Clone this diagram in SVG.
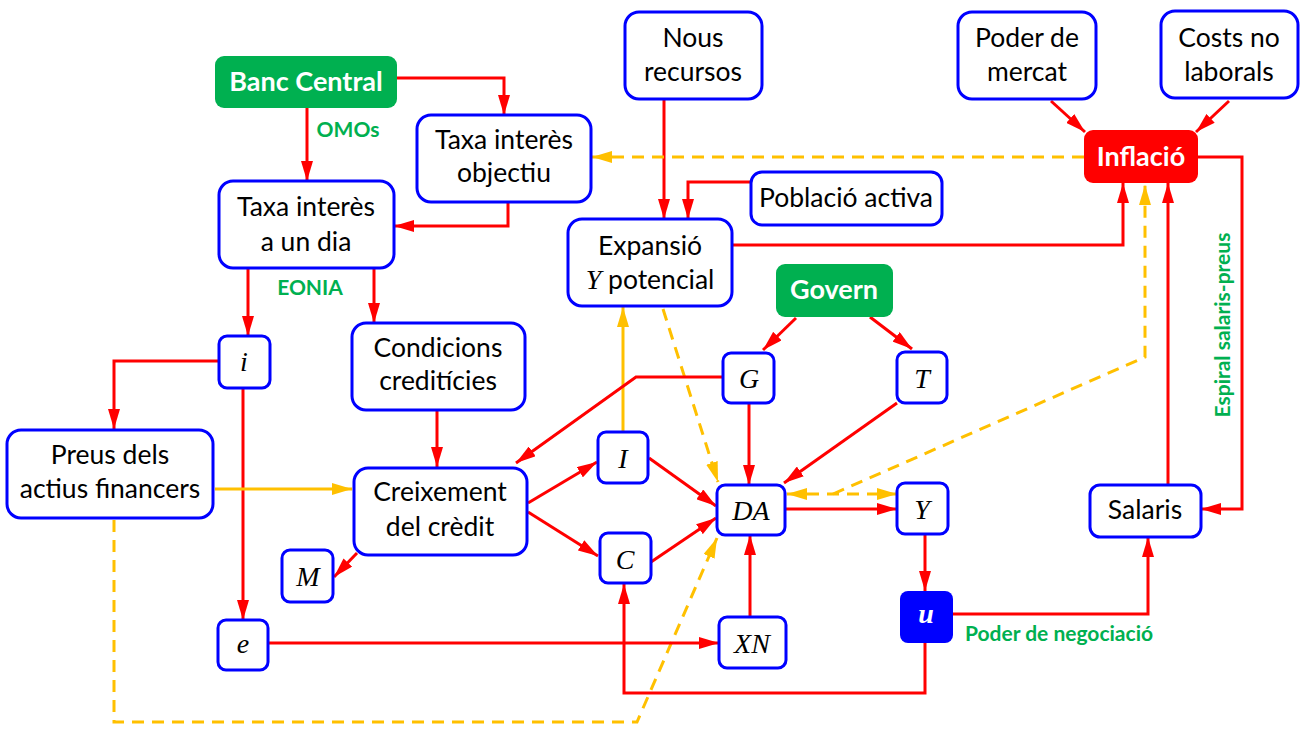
<svg xmlns="http://www.w3.org/2000/svg" width="1304" height="731" viewBox="0 0 1304 731">
<style>
.box{fill:#fff;stroke:#0000ff;stroke-width:3}
.t{font-family:Lato,"Liberation Sans",sans-serif;font-size:26.5px;fill:#000;text-anchor:middle}
.m{font-family:"Liberation Serif","DejaVu Serif",serif;font-style:italic;font-size:28px;fill:#000;text-anchor:middle}
.w{font-family:Lato,"Liberation Sans",sans-serif;font-weight:bold;font-size:27px;fill:#fff;text-anchor:middle}
.g{font-family:Lato,"Liberation Sans",sans-serif;font-weight:bold;font-size:21px;fill:#00b050;text-anchor:middle}
.r{fill:none;stroke:#ff0000;stroke-width:3;marker-end:url(#ar)}
.o{fill:none;stroke:#ffc000;stroke-width:3;marker-end:url(#ao)}
.od{fill:none;stroke:#ffc000;stroke-width:3;stroke-dasharray:12 8;marker-end:url(#ao)}
</style>
<defs>
<marker id="ar" viewBox="0 0 20 12" refX="20" refY="6" markerWidth="20" markerHeight="12" orient="auto-start-reverse" markerUnits="userSpaceOnUse"><path d="M0,0 L20,6 L0,12 z" fill="#ff0000"/></marker>
<marker id="ao" viewBox="0 0 20 12" refX="20" refY="6" markerWidth="20" markerHeight="12" orient="auto-start-reverse" markerUnits="userSpaceOnUse"><path d="M0,0 L20,6 L0,12 z" fill="#ffc000"/></marker>
</defs>
<rect width="1304" height="731" fill="#fff"/>
<g id="connectors">
<path class="r" d="M397,78 H504 V115"/>
<path class="r" d="M307,108 V181"/>
<path class="r" d="M508,202 V226 H394"/>
<path class="r" d="M248,268 V336"/>
<path class="r" d="M374,268 V323"/>
<path class="r" d="M219,361 H114 V429"/>
<path class="r" d="M243,388 V620"/>
<path class="r" d="M437,410 V467"/>
<path class="o" d="M215,489 H352"/>
<path class="od" d="M114,520 V722 H637 L717,538"/>
<path class="r" d="M357,553 L334,577"/>
<path class="r" d="M528,503 L597,462"/>
<path class="r" d="M528,512 L598,556"/>
<path class="o" d="M623,432 V307"/>
<path class="od" d="M663,309 L718,482"/>
<path class="r" d="M649,458 L716,506"/>
<path class="r" d="M651,562 L716,518"/>
<path class="r" d="M723,377 H636 L516,463"/>
<path class="r" d="M749,403 V485"/>
<path class="r" d="M897,403 L784,483"/>
<path class="r" d="M796,318 L763,350"/>
<path class="r" d="M870,317 L912,349"/>
<path class="r" d="M785,509 H897"/>
<path class="od" d="M787,494 H897" marker-start="url(#ao)"/>
<path class="od" d="M833,494 L1145,357 V185"/>
<path class="r" d="M925,534 V591"/>
<path class="r" d="M953,614 H1148 V537"/>
<path class="r" d="M925,643 V693 H624 V584"/>
<path class="r" d="M268,643 H719"/>
<path class="r" d="M750,617 V535"/>
<path class="r" d="M664,99 V219"/>
<path class="r" d="M751,182 H688 V219"/>
<path class="r" d="M732,245 H1123 V183"/>
<path class="r" d="M1051,101 L1085,132"/>
<path class="r" d="M1229,101 L1196,132"/>
<path class="od" d="M1084,157 H592"/>
<path class="r" d="M1198,157 H1242 V509 H1201"/>
<path class="r" d="M1168,485 V183"/>
</g>
<g id="banc-central"><rect x="215" y="56" width="182" height="52" rx="9" fill="#00b050"/><text class="w" x="306" y="91">Banc Central</text></g>
<g id="omos"><text class="g" x="348" y="137">OMOs</text></g>
<g id="eonia"><text class="g" x="310" y="295">EONIA</text></g>
<g id="taxa-objectiu"><rect class="box" x="417" y="115" width="174" height="87" rx="14"/><text class="t" x="504" y="149">Taxa interès</text><text class="t" x="504" y="182">objectiu</text></g>
<g id="taxa-dia"><rect class="box" x="219" y="181" width="175" height="87" rx="14"/><text class="t" x="306" y="216">Taxa interès</text><text class="t" x="306" y="251">a un dia</text></g>
<g id="nous-recursos"><rect class="box" x="625" y="12" width="137" height="87" rx="14"/><text class="t" x="693" y="47">Nous</text><text class="t" x="693" y="81">recursos</text></g>
<g id="poblacio-activa"><rect class="box" x="751" y="172" width="191" height="53" rx="11"/><text class="t" x="846" y="207">Població activa</text></g>
<g id="expansio"><rect class="box" x="568" y="219" width="164" height="87" rx="14"/><text class="t" x="650" y="255">Expansió</text><text class="t" x="650" y="289"><tspan font-family="Liberation Serif,serif" font-style="italic" font-size="28">Y</tspan> potencial</text></g>
<g id="poder-mercat"><rect class="box" x="958" y="12" width="138" height="87" rx="14"/><text class="t" x="1027" y="47">Poder de</text><text class="t" x="1027" y="81">mercat</text></g>
<g id="costs"><rect class="box" x="1161" y="11" width="137" height="87" rx="14"/><text class="t" x="1229" y="47">Costs no</text><text class="t" x="1229" y="81">laborals</text></g>
<g id="inflacio"><rect x="1084" y="130" width="114" height="53" rx="9" fill="#ff0000"/><text class="w" x="1141" y="166">Inflació</text></g>
<g id="espiral"><text class="g" transform="translate(1230,325) rotate(-90)" x="0" y="0">Espiral salaris-preus</text></g>
<g id="govern"><rect x="776" y="264" width="117" height="53" rx="9" fill="#00b050"/><text class="w" x="834" y="299">Govern</text></g>
<g id="i"><rect class="box" x="219" y="336" width="51" height="52" rx="8"/><text class="m" x="244" y="371">i</text></g>
<g id="condicions"><rect class="box" x="352" y="323" width="173" height="87" rx="14"/><text class="t" x="438" y="357">Condicions</text><text class="t" x="438" y="390">creditícies</text></g>
<g id="preus"><rect class="box" x="7" y="430" width="206" height="88" rx="14"/><text class="t" x="110" y="464">Preus dels</text><text class="t" x="110" y="498">actius financers</text></g>
<g id="creixement"><rect class="box" x="354" y="468" width="173" height="87" rx="14"/><text class="t" x="440" y="501">Creixement</text><text class="t" x="440" y="536">del crèdit</text></g>
<g id="M"><rect class="box" x="282" y="550" width="51" height="52" rx="8"/><text class="m" x="308" y="586">M</text></g>
<g id="G"><rect class="box" x="723" y="353" width="51" height="50" rx="8"/><text class="m" x="749" y="388">G</text></g>
<g id="T"><rect class="box" x="897" y="352" width="50" height="51" rx="8"/><text class="m" x="922" y="388">T</text></g>
<g id="I"><rect class="box" x="598" y="432" width="50" height="51" rx="8"/><text class="m" x="623" y="468">I</text></g>
<g id="C"><rect class="box" x="600" y="533" width="51" height="50" rx="8"/><text class="m" x="625" y="569">C</text></g>
<g id="DA"><rect class="box" x="717" y="485" width="68" height="50" rx="8"/><text class="m" x="751" y="520">DA</text></g>
<g id="Y"><rect class="box" x="897" y="483" width="51" height="51" rx="8"/><text class="m" x="922" y="519">Y</text></g>
<g id="u"><rect x="900" y="591" width="53" height="52" rx="8" fill="#0000ff"/><text class="m" x="926" y="623" font-weight="bold" style="fill:#fff">u</text></g>
<g id="poder-negociacio"><text class="g" x="1059" y="641">Poder de negociació</text></g>
<g id="salaris"><rect class="box" x="1090" y="485" width="111" height="52" rx="10"/><text class="t" x="1145" y="519">Salaris</text></g>
<g id="e"><rect class="box" x="218" y="620" width="50" height="50" rx="8"/><text class="m" x="243" y="653">e</text></g>
<g id="XN"><rect class="box" x="719" y="617" width="67" height="51" rx="8"/><text class="m" x="752" y="653">XN</text></g>
</svg>
